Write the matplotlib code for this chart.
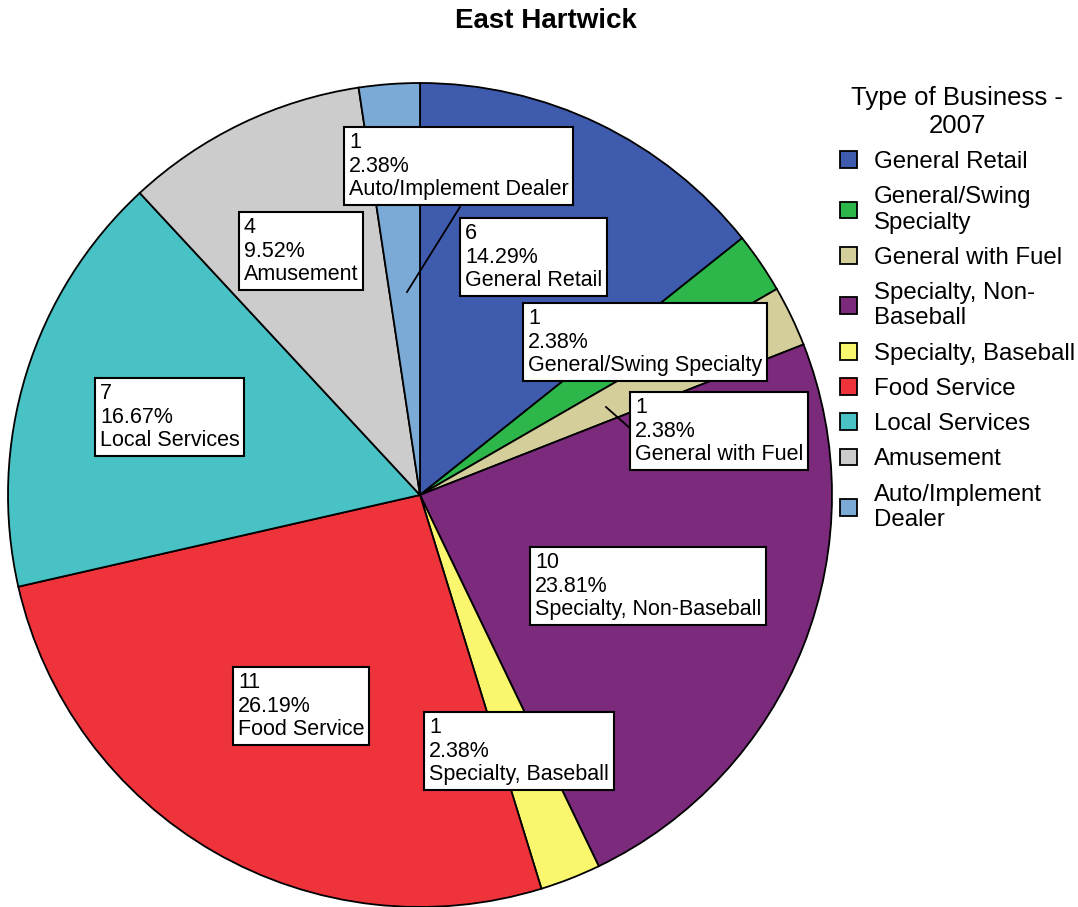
import matplotlib.pyplot as plt

plt.rcParams['font.family'] = ['Liberation Sans', 'DejaVu Sans']

# business counts, clockwise from 12 o'clock
categories = ["General Retail", "General/Swing Specialty", "General with Fuel",
              "Specialty, Non-Baseball", "Specialty, Baseball", "Food Service",
              "Local Services", "Amusement", "Auto/Implement Dealer"]
legend_labels = ["General Retail", "General/Swing\nSpecialty", "General with Fuel",
                 "Specialty, Non-\nBaseball", "Specialty, Baseball", "Food Service",
                 "Local Services", "Amusement", "Auto/Implement\nDealer"]
counts = [6, 1, 1, 10, 1, 11, 7, 4, 1]
colors = ["#3F5BAE", "#2DB64A", "#D4CF9A", "#7B2A7C", "#FAF76E",
          "#EE343A", "#48C2C5", "#CCCCCC", "#7BAAD6"]

W, H = 1078, 907
cx, cy, r = 420, 495, 412

fig = plt.figure(figsize=(W / 100, H / 100), dpi=100)
ax = fig.add_axes([0, 0, 1, 1])

wedges, _ = ax.pie(counts, colors=colors, startangle=90, counterclock=False,
                   center=(cx, H - cy), radius=r, frame=True,
                   wedgeprops=dict(edgecolor='black', linewidth=1.3))
ax.set_xlim(0, W)
ax.set_ylim(0, H)
ax.set_aspect('equal')
ax.axis('off')

total = sum(counts)
# top-left corner of each label text (pixels from top-left)
label_pos = [(465, 223), (528, 308), (635, 397), (535, 552), (429, 717),
             (238, 672), (100, 383), (244, 217), (349, 132)]
for name, n, (x, y) in zip(categories, counts, label_pos):
    ax.text(x, H - y, f"{n}\n{n / total * 100:.2f}%\n{name}", fontsize=15.5,
            ha='left', va='top', linespacing=1.16,
            bbox=dict(boxstyle='square,pad=0.22', facecolor='white',
                      edgecolor='black', linewidth=1.5))

# leader lines for the thin slices
ax.plot([460, 407], [H - 207, H - 292], color='black', linewidth=1.3)
ax.plot([632, 606], [H - 430, H - 407], color='black', linewidth=1.3)

fig.text(546 / W, 1 - 21 / H, "East Hartwick", ha='center', va='center',
         fontsize=20, fontweight='bold')

leg = ax.legend(wedges, legend_labels, title="Type of Business -\n2007",
                loc='upper left', bbox_to_anchor=(840 / W, 1 - 86 / H),
                bbox_transform=fig.transFigure, frameon=False,
                fontsize=17.3, title_fontsize=18.5, handlelength=0.7,
                handleheight=0.7, handletextpad=0.7, labelspacing=0.55,
                borderaxespad=0, borderpad=0)
leg.get_title().set_multialignment('center')

fig.savefig("out.png", dpi=100)
